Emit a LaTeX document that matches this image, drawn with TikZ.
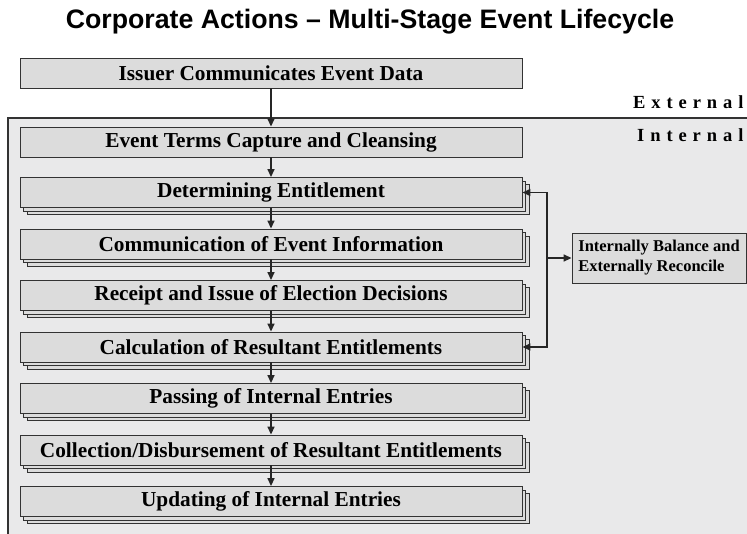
\documentclass[tikz,border=0pt]{standalone}
\usepackage{fontspec}
\setmainfont{Liberation Serif}
\newfontfamily\titlefont{Liberation Sans}
\newfontfamily\spacedfont[LetterSpace=32]{Liberation Serif}
\usetikzlibrary{arrows.meta,positioning,shadows}

\definecolor{boxgray}{HTML}{DCDCDC}
\definecolor{framegray}{HTML}{E9E9EA}
\definecolor{linegray}{HTML}{333333}

\begin{document}
\begin{tikzpicture}[
    x=1pt, y=1pt,
    stage/.style={draw=linegray, fill=boxgray, line width=0.9pt, minimum width=502pt,
        minimum height=30pt, inner sep=0pt, font=\fontsize{21.3}{24}\selectfont\bfseries},
    stack/.style={stage, double copy shadow={shadow xshift=3.5pt, shadow yshift=-3.5pt,
        fill=boxgray, draw=linegray, line width=0.9pt}},
    side/.style={font=\spacedfont\fontsize{18.5}{20}\selectfont\bfseries, anchor=base west, inner sep=0pt},
    link/.style={draw=black!85, line width=1.6pt, -{Triangle[length=8pt,width=7pt]}},
]
\useasboundingbox (0,0) rectangle (747,-533);

% --- Title ---
\node[font=\titlefont\fontsize{26.7}{30}\selectfont\bfseries] (title) at (370,-22)
    {Corporate Actions – Multi-Stage Event Lifecycle};

% --- Internal area ---
\fill[framegray] (8,-118) rectangle (760,-540);
\draw[linegray, line width=1.2pt] (760,-118) -- (8,-118) -- (8,-540);
\node[side] (extlbl) at (633,-108) {External};
\node[side] (intlbl) at (637,-141) {Internal};

% --- Stages ---
\node[stage] (s0) at (271,-73) {Issuer Communicates Event Data};
\node[stage] (s1) at (271,-142) {Event Terms Capture and Cleansing};
\foreach \i/\txt in {2/Determining Entitlement,
                     3/Communication of Event Information,
                     4/Receipt and Issue of Election Decisions,
                     5/Calculation of Resultant Entitlements,
                     6/Passing of Internal Entries,
                     7/{Collection/Disbursement of Resultant Entitlements},
                     8/Updating of Internal Entries} {
    \node[stack] (s\i) at (271,{-(192.5+(\i-2)*51.5)}) {\txt};
}

% Flow down the stages
\foreach \i [evaluate=\i as \j using int(\i+1)] in {0,...,7} {
    \draw[link] (s\i) -- (s\j);
}

% --- Balance and reconcile loop ---
\node[stage, minimum width=174pt, minimum height=50pt, align=left,
    font=\fontsize{16.5}{20}\selectfont\bfseries] (recon) at (659,-258)
    {Internally Balance and\\Externally Reconcile};
\coordinate (rail) at (547,0);
\draw[link, {Triangle[length=8pt,width=7pt]}-{Triangle[length=8pt,width=7pt]}]
    (s2.east) -- (s2.east -| rail) -- (s5.east -| rail) -- (s5.east);
\draw[link] (recon.west -| rail) -- (recon.west);

\end{tikzpicture}
\end{document}
